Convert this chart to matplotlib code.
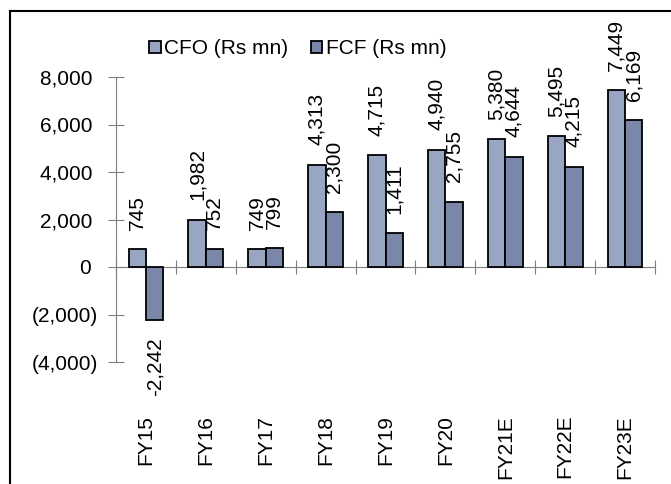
import matplotlib.pyplot as plt
from matplotlib.lines import Line2D
import numpy as np

years = ["FY15", "FY16", "FY17", "FY18", "FY19", "FY20", "FY21E", "FY22E", "FY23E"]
cfo = [745, 1982, 749, 4313, 4715, 4940, 5380, 5495, 7449]
fcf = [-2242, 752, 799, 2300, 1411, 2755, 4644, 4215, 6169]

plt.rcParams['font.family'] = ['Liberation Sans', 'DejaVu Sans']
plt.rcParams['font.size'] = 15

fig = plt.figure(figsize=(6.71, 4.84), dpi=100)
ax = fig.add_axes([116 / 671, 1 - 362 / 484, 539 / 671, 285 / 484])

x = np.arange(len(years))
w = 0.29
b1 = ax.bar(x - w / 2, cfo, w, color='#98A6C4', edgecolor='black', linewidth=1.3, label='CFO (Rs mn)')
b2 = ax.bar(x + w / 2, fcf, w, color='#7A87AA', edgecolor='black', linewidth=1.3, label='FCF (Rs mn)')

for bars, vals in ((b1, cfo), (b2, fcf)):
    for r, v in zip(bars, vals):
        cx = r.get_x() + r.get_width() / 2
        if v >= 0:
            ax.annotate(f"{v:,}", (cx, v), xytext=(0, 14), textcoords='offset points',
                        rotation=90, ha='center', va='bottom', annotation_clip=False)
        else:
            ax.annotate(f"{v:,}", (cx, v), xytext=(0, -12), textcoords='offset points',
                        rotation=90, ha='center', va='top', annotation_clip=False)

ax.set_xlim(-0.5, len(years) - 0.5)
ax.set_ylim(-4000, 8000)
yt = list(range(-4000, 8001, 2000))
ax.set_yticks(yt)
ax.set_yticklabels([f"({-t:,})" if t < 0 else f"{t:,} " for t in yt])

for s in ['top', 'right', 'bottom']:
    ax.spines[s].set_visible(False)
ax.spines['left'].set_color('#7f7f7f')
ax.tick_params(axis='y', direction='inout', length=12, color='#7f7f7f', pad=7)

ax.set_xticks(x)
ax.set_xticklabels(years, rotation=90, va='top')
ax.tick_params(axis='x', length=0, pad=38)

# zero line with category ticks
sec = ax.secondary_xaxis(1 / 3)
sec.set_xticks(np.arange(-0.5, len(years), 1.0))
sec.set_xticklabels([])
sec.spines['bottom'].set_color('#7f7f7f')
sec.tick_params(direction='inout', length=10, color='#7f7f7f')

fig.legend(loc='upper left', bbox_to_anchor=(139 / 671, 1 - 29 / 484), ncol=2, frameon=False,
           handlelength=0.55, handleheight=0.55, handletextpad=0.15, columnspacing=1.1,
           fontsize=15, borderpad=0)

fig.add_artist(Line2D([10 / 671, 10 / 671], [0, 1 - 11 / 484], color='black', linewidth=1.5))
fig.add_artist(Line2D([10 / 671, 1], [1 - 11 / 484, 1 - 11 / 484], color='black', linewidth=1.5))

fig.savefig('out.png', dpi=100)
